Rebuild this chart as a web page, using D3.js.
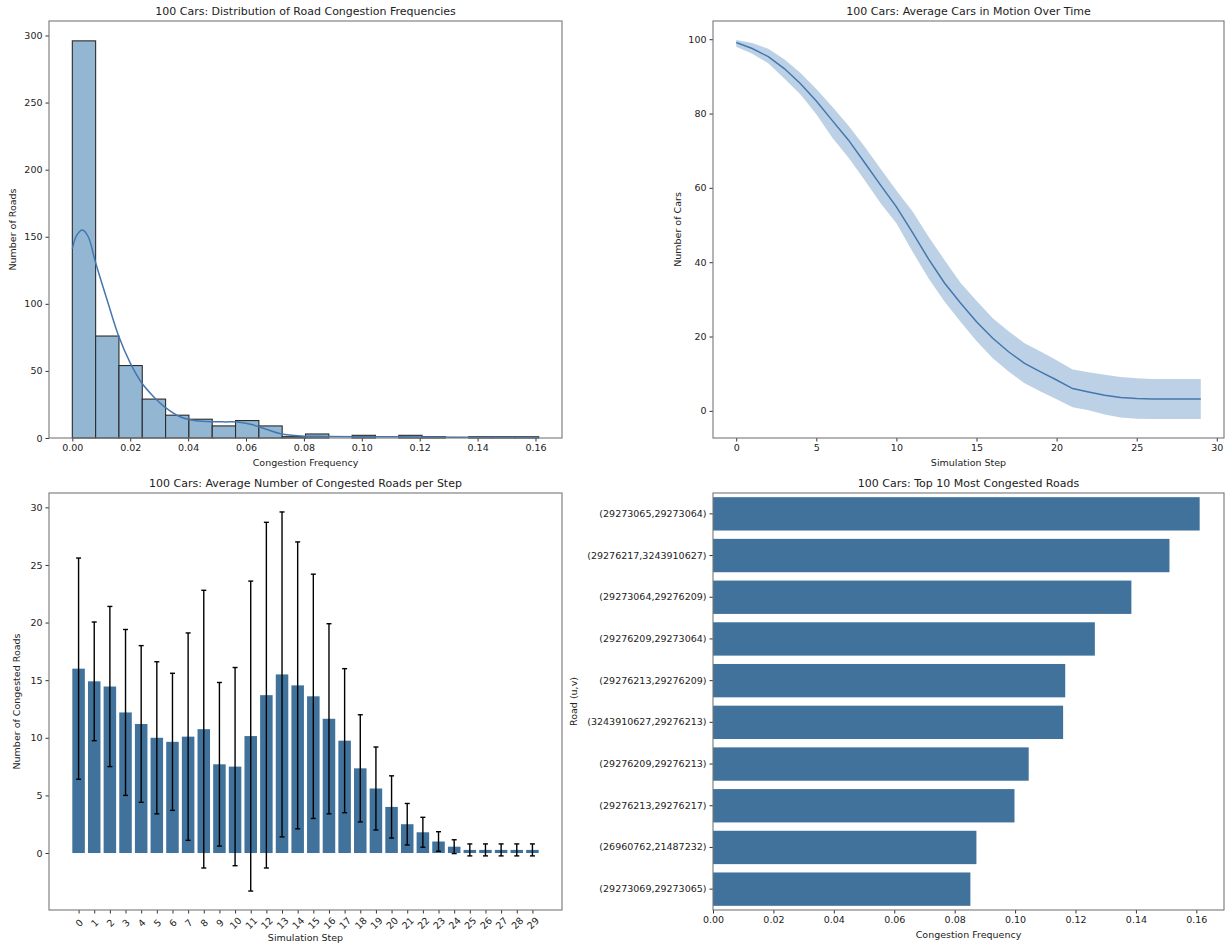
<!DOCTYPE html>
<html>
<head>
<meta charset="utf-8">
<script src="https://cdn.jsdelivr.net/npm/d3@7"></script>
<style>
  html, body { margin: 0; padding: 0; background: #fff; }
  svg { display: block; font-family: "DejaVu Sans", sans-serif; }
  .tick text { fill: #222; font-size: 9.5px; font-family: "DejaVu Sans", sans-serif; }
  .tick line { stroke: #333; }
  .domain { display: none; }
</style>
</head>
<body>
<svg id="fig" width="1228" height="947"></svg>
<script>
// ---------- data ----------
// Histogram of per-road congestion frequency (20 equal bins over the data range)
const histMin = 0;
const histMax = 0.1611;
const histCounts = [296, 76, 54, 29, 17, 14, 9, 13, 9, 1, 3, 0, 2, 0, 2, 1, 0, 1, 1, 1];
// Density estimate overlaid on the histogram (frequency, scaled count)
const kdeX = [0, 0.0015, 0.0035, 0.0055, 0.008, 0.012, 0.016, 0.020, 0.024, 0.028, 0.032, 0.037, 0.041, 0.045, 0.049, 0.053, 0.057, 0.062, 0.067, 0.072, 0.079, 0.088, 0.106, 0.120, 0.140, 0.1611];
const kdeY = [141, 151, 155, 150, 131, 103, 76, 56, 41, 31, 23, 16, 13.4, 12.4, 12.1, 12.0, 11.9, 10.0, 6.5, 3.2, 1.5, 1.2, 0.9, 0.8, 0.6, 0.5];
const histTicksX = [0, 0.02, 0.04, 0.06, 0.08, 0.10, 0.12, 0.14, 0.16];
const histTicksY = [0, 50, 100, 150, 200, 250, 300];

// Average number of cars still moving, per simulation step, with spread band
const motionSteps = d3.range(30);
const motionMean = [99.1, 97.5, 95.3, 92.1, 88.1, 83.4, 78.1, 72.9, 66.9, 60.8, 54.9, 48.0, 40.9, 34.4, 29.0, 24.0, 19.6, 15.9, 12.8, 10.5, 8.3, 6.0, 5.1, 4.2, 3.6, 3.3, 3.2, 3.2, 3.2, 3.2];
const motionLow  = [98.0, 96.1, 93.5, 89.4, 85.2, 79.8, 73.5, 68.2, 62.2, 55.9, 50.5, 42.9, 35.7, 29.4, 24.0, 18.8, 14.2, 10.6, 7.4, 5.2, 3.1, 1.0, 0.2, -1.0, -1.8, -2.1, -2.2, -2.2, -2.2, -2.2];
const motionHigh = [99.8, 99.0, 97.4, 94.6, 91.0, 86.6, 81.8, 76.8, 71.2, 65.2, 59.3, 53.7, 46.9, 40.6, 34.5, 29.6, 25.0, 21.4, 18.2, 16.0, 13.6, 11.1, 10.4, 9.7, 9.1, 8.8, 8.6, 8.6, 8.6, 8.6];
const motionTicksX = [0, 5, 10, 15, 20, 25, 30];
const motionTicksY = [0, 20, 40, 60, 80, 100];

// Average number of congested roads per step, with standard deviation
const congSteps = d3.range(30);
const congMean = [16.0, 14.9, 14.45, 12.2, 11.2, 10.0, 9.65, 10.1, 10.75, 7.7, 7.5, 10.15, 13.7, 15.5, 14.55, 13.6, 11.65, 9.75, 7.35, 5.6, 4.0, 2.5, 1.8, 1.0, 0.55, 0.27, 0.27, 0.27, 0.27, 0.27];
const congSd   = [9.6, 5.15, 6.95, 7.2, 6.8, 6.6, 5.95, 9.0, 12.05, 7.1, 8.6, 13.45, 15.0, 14.1, 12.45, 10.6, 8.25, 6.25, 4.65, 3.6, 2.7, 1.8, 1.3, 0.85, 0.6, 0.52, 0.52, 0.52, 0.52, 0.52];
const congTicksY = [0, 5, 10, 15, 20, 25, 30];

// Ten most congested roads
const roadLabels = ["(29273065,29273064)", "(29276217,3243910627)", "(29273064,29276209)", "(29276209,29273064)", "(29276213,29276209)", "(3243910627,29276213)", "(29276209,29276213)", "(29276213,29276217)", "(26960762,21487232)", "(29273069,29273065)"];
const roadFreq = [0.1611, 0.1511, 0.1385, 0.1264, 0.1166, 0.1159, 0.1045, 0.0998, 0.0872, 0.0852];
const roadTicksX = [0, 0.02, 0.04, 0.06, 0.08, 0.10, 0.12, 0.14, 0.16];

// ---------- styles ----------
const histFill = "#93b7d3";
const histEdge = "#2b2b2b";
const lineColor = "#4477b0";
const bandColor = "#bcd1e6";
const barColor = "#41729c";
const frameColor = "#777";
const textColor = "#222";

const svg = d3.select("#fig");

const panels = {
  tl: { x0: 49, x1: 562, y0: 21, y1: 438 },
  tr: { x0: 713, x1: 1224, y0: 21, y1: 438 },
  bl: { x0: 49, x1: 562, y0: 493, y1: 910 },
  br: { x0: 713, x1: 1224, y0: 493, y1: 910 }
};

function padded(lo, hi, f = 0.05) {
  const p = (hi - lo) * f;
  return [lo - p, hi + p];
}

function frame(p) {
  svg.append("rect")
    .attr("x", p.x0).attr("y", p.y0)
    .attr("width", p.x1 - p.x0).attr("height", p.y1 - p.y0)
    .attr("fill", "none").attr("stroke", frameColor).attr("stroke-width", 1.1);
}

function title(p, text) {
  svg.append("text")
    .attr("x", (p.x0 + p.x1) / 2).attr("y", p.y0 - 6)
    .attr("text-anchor", "middle").attr("fill", textColor)
    .attr("font-size", "11px").text(text);
}

function xLabel(p, text, y) {
  svg.append("text")
    .attr("x", (p.x0 + p.x1) / 2).attr("y", y)
    .attr("text-anchor", "middle").attr("fill", textColor)
    .attr("font-size", "9.5px").text(text);
}

function yLabel(p, text, x) {
  svg.append("text")
    .attr("transform", `translate(${x},${(p.y0 + p.y1) / 2}) rotate(-90)`)
    .attr("text-anchor", "middle").attr("fill", textColor)
    .attr("font-size", "9.5px").text(text);
}

function bottomAxis(p, scale, ticks, fmt) {
  return svg.append("g")
    .attr("transform", `translate(0,${p.y1})`)
    .call(d3.axisBottom(scale).tickValues(ticks).tickFormat(fmt).tickSize(3.5).tickPadding(3));
}

function leftAxis(p, scale, ticks, fmt) {
  return svg.append("g")
    .attr("transform", `translate(${p.x0},0)`)
    .call(d3.axisLeft(scale).tickValues(ticks).tickFormat(fmt).tickSize(3.5).tickPadding(3));
}

// ---------- top-left: histogram with density curve ----------
(function () {
  const p = panels.tl;
  const x = d3.scaleLinear().domain(padded(histMin, histMax)).range([p.x0, p.x1]);
  const y = d3.scaleLinear().domain([0, d3.max(histCounts) * 1.05]).range([p.y1, p.y0]);
  const bw = (histMax - histMin) / histCounts.length;
  const bins = histCounts.map((c, i) => ({ x0: histMin + i * bw, x1: histMin + (i + 1) * bw, c }));

  svg.append("g").selectAll("rect").data(bins).join("rect")
    .attr("x", d => x(d.x0)).attr("width", d => x(d.x1) - x(d.x0))
    .attr("y", d => y(d.c)).attr("height", d => y(0) - y(d.c))
    .attr("fill", histFill).attr("stroke", histEdge).attr("stroke-width", 1.1);

  const kde = d3.line().x((d, i) => x(kdeX[i])).y(d => y(d)).curve(d3.curveCatmullRom.alpha(0.5));
  svg.append("path").attr("d", kde(kdeY))
    .attr("fill", "none").attr("stroke", lineColor).attr("stroke-width", 1.5);

  bottomAxis(p, x, histTicksX, d3.format(".2f"));
  leftAxis(p, y, histTicksY, d3.format("d"));
  frame(p);
  title(p, "100 Cars: Distribution of Road Congestion Frequencies");
  xLabel(p, "Congestion Frequency", 466);
  yLabel(p, "Number of Roads", 16);
})();

// ---------- top-right: cars in motion over time ----------
(function () {
  const p = panels.tr;
  const x = d3.scaleLinear().domain(padded(0, d3.max(motionSteps))).range([p.x0, p.x1]);
  const y = d3.scaleLinear().domain(padded(d3.min(motionLow), d3.max(motionHigh))).range([p.y1, p.y0]);

  const area = d3.area().x((d, i) => x(motionSteps[i])).y0((d, i) => y(motionLow[i])).y1((d, i) => y(motionHigh[i]));
  svg.append("path").attr("d", area(motionMean)).attr("fill", bandColor);

  const line = d3.line().x((d, i) => x(motionSteps[i])).y(d => y(d));
  svg.append("path").attr("d", line(motionMean))
    .attr("fill", "none").attr("stroke", lineColor).attr("stroke-width", 1.5);

  bottomAxis(p, x, motionTicksX, d3.format("d"));
  leftAxis(p, y, motionTicksY, d3.format("d"));
  frame(p);
  title(p, "100 Cars: Average Cars in Motion Over Time");
  xLabel(p, "Simulation Step", 466);
  yLabel(p, "Number of Cars", 681);
})();

// ---------- bottom-left: congested roads per step ----------
(function () {
  const p = panels.bl;
  const barW = 0.8;
  const x = d3.scaleLinear().domain(padded(-barW / 2, d3.max(congSteps) + barW / 2)).range([p.x0, p.x1]);
  const lows = congMean.map((m, i) => m - congSd[i]);
  const highs = congMean.map((m, i) => m + congSd[i]);
  const y = d3.scaleLinear().domain(padded(Math.min(0, d3.min(lows)), d3.max(highs))).range([p.y1, p.y0]);

  svg.append("g").selectAll("rect").data(congMean).join("rect")
    .attr("x", (d, i) => x(congSteps[i] - barW / 2))
    .attr("width", (d, i) => x(congSteps[i] + barW / 2) - x(congSteps[i] - barW / 2))
    .attr("y", d => y(d)).attr("height", d => y(0) - y(d))
    .attr("fill", barColor);

  const eg = svg.append("g").attr("stroke", "#000").attr("stroke-width", 1.4);
  congMean.forEach((m, i) => {
    const cx = x(congSteps[i]);
    eg.append("line").attr("x1", cx).attr("x2", cx).attr("y1", y(lows[i])).attr("y2", y(highs[i]));
    eg.append("line").attr("x1", cx - 2.5).attr("x2", cx + 2.5).attr("y1", y(lows[i])).attr("y2", y(lows[i]));
    eg.append("line").attr("x1", cx - 2.5).attr("x2", cx + 2.5).attr("y1", y(highs[i])).attr("y2", y(highs[i]));
  });

  const gx = svg.append("g").attr("transform", `translate(0,${p.y1})`)
    .call(d3.axisBottom(x).tickValues(congSteps).tickFormat(d3.format("d")).tickSize(3.5));
  gx.selectAll(".tick text")
    .attr("y", 0).attr("dy", 0)
    .attr("text-anchor", "middle").attr("dominant-baseline", "central")
    .attr("transform", "translate(0,13) rotate(-45)");
  leftAxis(p, y, congTicksY, d3.format("d"));
  frame(p);
  title(p, "100 Cars: Average Number of Congested Roads per Step");
  xLabel(p, "Simulation Step", 941);
  yLabel(p, "Number of Congested Roads", 20);
})();

// ---------- bottom-right: top congested roads ----------
(function () {
  const p = panels.br;
  const y = d3.scaleBand().domain(roadLabels).range([p.y0, p.y1]).paddingInner(0.2).paddingOuter(0.1);
  const x = d3.scaleLinear().domain([0, d3.max(roadFreq) * 1.05]).range([p.x0, p.x1]);

  svg.append("g").selectAll("rect").data(roadFreq).join("rect")
    .attr("x", x(0)).attr("y", (d, i) => y(roadLabels[i]))
    .attr("width", d => x(d) - x(0)).attr("height", y.bandwidth())
    .attr("fill", barColor);

  bottomAxis(p, x, roadTicksX, d3.format(".2f"));
  svg.append("g").attr("transform", `translate(${p.x0},0)`)
    .call(d3.axisLeft(y).tickSize(3.5).tickPadding(3));
  frame(p);
  title(p, "100 Cars: Top 10 Most Congested Roads");
  xLabel(p, "Congestion Frequency", 938);
  yLabel(p, "Road (u,v)", 577);
})();
</script>
</body>
</html>
